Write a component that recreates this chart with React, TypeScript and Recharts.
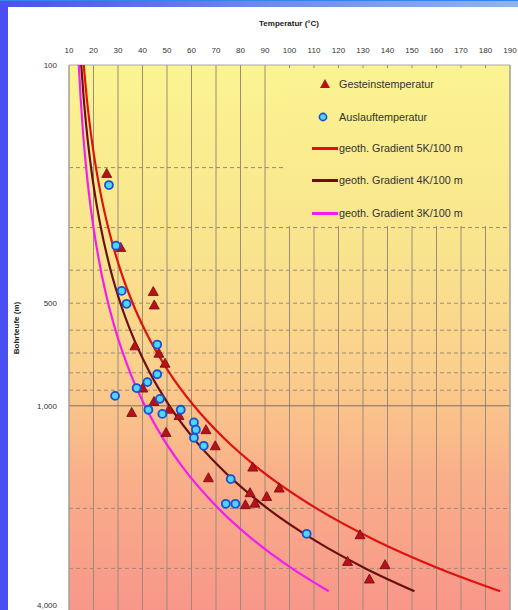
import { ComposedChart, Scatter, XAxis, YAxis, CartesianGrid, ReferenceLine } from "recharts";

// Gesteinstemperatur (triangles)
const rockTemps = [25.4, 31.1, 44.4, 44.8, 36.9, 46.7, 49.2, 40.1, 44.7, 50.9, 35.6, 54.9, 65.9, 49.6, 69.7, 85.0, 66.9, 95.8, 83.9, 90.7, 82.0, 85.9, 128.8, 123.7, 139.0, 132.6];
const rockDepths = [208, 343, 462, 506, 667, 701, 750, 887, 971, 1023, 1046, 1068, 1175, 1197, 1310, 1513, 1626, 1743, 1799, 1845, 1950, 1930, 2389, 2862, 2925, 3223];

// Auslauftemperatur (circles)
const outTemps = [26.3, 29.2, 31.5, 33.5, 46.0, 46.0, 42.0, 37.6, 28.8, 47.1, 42.4, 48.1, 55.6, 61.0, 61.8, 61.0, 65.0, 76.0, 74.0, 77.9, 107.0];
const outDepths = [225, 339, 460, 502, 661, 808, 852, 887, 935, 954, 1027, 1056, 1027, 1119, 1175, 1241, 1310, 1640, 1939, 1939, 2374];

// geothermal gradients (temperature at each depth)
const gradDepths = [100, 125, 150, 200, 250, 300, 400, 500, 600, 800, 1000, 1250, 1500, 2000, 2500, 3000, 3500];
const grad5 = [16, 17.25, 18.5, 21, 23.5, 26, 31, 36, 41, 51, 61, 73.5, 86, 111, 136, 161, 186];
const grad4 = [15, 16, 17, 19, 21, 23, 27, 31, 35, 43, 51, 61, 71, 91, 111, 131, 151];
const grad3 = [14, 14.75, 15.5, 17, 18.5, 20, 23, 26, 29, 35, 41, 48.5, 56, 71, 86, 101, 116];

const tempTicks = [10, 20, 30, 40, 50, 60, 70, 80, 90, 100, 110, 120, 130, 140, 150, 160, 170, 180, 190];
const depthTicks = [100, 500, 1000, 4000];
const minorDepths = [200, 300, 400, 500, 600, 700, 800, 900, 2000, 3000];

const pts = (ts: number[], ds: number[]) => ts.map((t, i) => ({ t, d: ds[i] }));

const FONT = "'Liberation Sans', Arial, sans-serif";
const GRID = "#9a8c78";

const Triangle = (props: any) => {
  const { cx, cy } = props;
  if (cx == null || cy == null) return <g />;
  return (
    <path
      d={`M${cx},${cy - 5} L${cx + 5},${cy + 4} L${cx - 5},${cy + 4} Z`}
      fill="#b5121b"
      stroke="#7a0808"
      strokeWidth={0.8}
    />
  );
};

const Dot = (props: any) => {
  const { cx, cy } = props;
  if (cx == null || cy == null) return <g />;
  return <circle cx={cx} cy={cy} r={4} fill="#4cd6f8" stroke="#1d4fd6" strokeWidth={1.8} />;
};

const NoShape = () => <g />;

const DepthTick = (props: any) => {
  const { x, y, payload } = props;
  const v = payload.value as number;
  const dy = v === 4000 ? -3 : 3;
  return (
    <text x={x} y={y + dy} textAnchor="end" fontSize={8} fill="#333" fontFamily={FONT}>
      {v.toLocaleString("en-US")}
    </text>
  );
};

function LegendRow({ y, marker, label }: { y: number; marker: React.ReactNode; label: string }) {
  return (
    <div style={{ position: "absolute", left: 0, top: y, width: 226, height: 14 }}>
      {marker}
      <span
        style={{
          position: "absolute",
          left: 56,
          top: 0,
          lineHeight: "14px",
          fontFamily: FONT,
          fontSize: 10.8,
          color: "#333",
          whiteSpace: "nowrap",
        }}
      >
        {label}
      </span>
    </div>
  );
}

const lineSwatch = (c: string) => (
  <div style={{ position: "absolute", left: 29, top: 6, width: 26, height: 2.5, background: c }} />
);

export default function App() {
  return (
    <div style={{ position: "absolute", left: 0, top: 0, width: 518, height: 610, overflow: "hidden", background: "#fff" }}>
      <div style={{ position: "absolute", left: 0, top: 0, width: 8, height: 610, background: "#4a4ff2" }} />
      <div
        style={{
          position: "absolute",
          left: 0,
          top: 0,
          width: 518,
          height: 7,
          background: "linear-gradient(to right, #4a50f2, #6f8ef0 55%, #8fb3f2)",
          borderTop: "1px solid #2f86ee",
          boxSizing: "border-box",
        }}
      />
      <div
        style={{
          position: "absolute",
          left: 289,
          top: 19,
          transform: "translateX(-50%)",
          fontFamily: FONT,
          fontSize: 8,
          fontWeight: 700,
          color: "#222",
          whiteSpace: "nowrap",
        }}
      >
        Temperatur (°C)
      </div>
      <div
        style={{
          position: "absolute",
          left: 16,
          top: 328,
          transform: "translate(-50%, -50%) rotate(-90deg)",
          fontFamily: FONT,
          fontSize: 8,
          fontWeight: 700,
          color: "#222",
          whiteSpace: "nowrap",
        }}
      >
        Bohrteufe (m)
      </div>
      <div style={{ position: "absolute", left: 0, top: 0 }}>
        <ComposedChart width={518} height={640} margin={{ top: 45, right: 8, bottom: 29, left: 29 }}>
          <defs>
            <linearGradient id="plotBg" x1="0" y1="0" x2="0" y2="1">
              <stop offset="0%" stopColor="#fbf491" />
              <stop offset="34%" stopColor="#f9e48e" />
              <stop offset="55%" stopColor="#fbd08c" />
              <stop offset="75%" stopColor="#f9b08a" />
              <stop offset="100%" stopColor="#f8968a" />
            </linearGradient>
          </defs>
          <CartesianGrid fill="url(#plotBg)" fillOpacity={1} horizontal={false} stroke={GRID} strokeWidth={1} />
          <XAxis
            type="number"
            dataKey="t"
            orientation="top"
            domain={[10, 190]}
            ticks={tempTicks}
            interval={0}
            height={20}
            tickLine={false}
            tickMargin={6}
            axisLine={{ stroke: "#a8a8a8" }}
            tick={{ fontSize: 8, fill: "#333", fontFamily: FONT }}
          />
          <YAxis
            type="number"
            dataKey="d"
            scale="log"
            domain={[100, 4000]}
            reversed
            allowDataOverflow
            ticks={depthTicks}
            interval={0}
            width={40}
            tickLine={false}
            tickMargin={6}
            axisLine={{ stroke: "#a8a8a8" }}
            tick={<DepthTick />}
          />
          {minorDepths.map((d) => (
            <ReferenceLine key={d} y={d} stroke={GRID} strokeDasharray="4 3" strokeWidth={1} />
          ))}
          <ReferenceLine y={1000} stroke="#7f7262" strokeWidth={1} />
          <ReferenceLine x={190} stroke="#a8a8a8" strokeWidth={1} />
          <Scatter data={pts(grad3, gradDepths)} line={{ stroke: "#f21ef0", strokeWidth: 2.2 }} lineJointType="monotoneX" shape={NoShape} isAnimationActive={false} />
          <Scatter data={pts(grad4, gradDepths)} line={{ stroke: "#6b0f0f", strokeWidth: 2.2 }} lineJointType="monotoneX" shape={NoShape} isAnimationActive={false} />
          <Scatter data={pts(grad5, gradDepths)} line={{ stroke: "#e0120f", strokeWidth: 2.2 }} lineJointType="monotoneX" shape={NoShape} isAnimationActive={false} />
          <Scatter data={pts(rockTemps, rockDepths)} shape={Triangle} isAnimationActive={false} />
          <Scatter data={pts(outTemps, outDepths)} shape={Dot} isAnimationActive={false} />
        </ComposedChart>
      </div>
      <div
        style={{
          position: "absolute",
          left: 283,
          top: 68,
          width: 226,
          height: 158,
          background: "linear-gradient(to bottom, #fbf391, #f9e68e)",
        }}
      >
        <LegendRow
          y={9}
          label="Gesteinstemperatur"
          marker={
            <svg width={10} height={9} style={{ position: "absolute", left: 37, top: 2 }}>
              <path d="M5,0 L10,9 L0,9 Z" fill="#b5121b" />
            </svg>
          }
        />
        <LegendRow
          y={42}
          label="Auslauftemperatur"
          marker={
            <svg width={10} height={10} style={{ position: "absolute", left: 35, top: 2 }}>
              <circle cx={5} cy={5} r={3.6} fill="#4cd6f8" stroke="#1d4fd6" strokeWidth={1.6} />
            </svg>
          }
        />
        <LegendRow y={73} label="geoth. Gradient 5K/100 m" marker={lineSwatch("#e0120f")} />
        <LegendRow y={105} label="geoth. Gradient 4K/100 m" marker={lineSwatch("#6b0f0f")} />
        <LegendRow y={138} label="geoth. Gradient 3K/100 m" marker={lineSwatch("#f21ef0")} />
      </div>
    </div>
  );
}
